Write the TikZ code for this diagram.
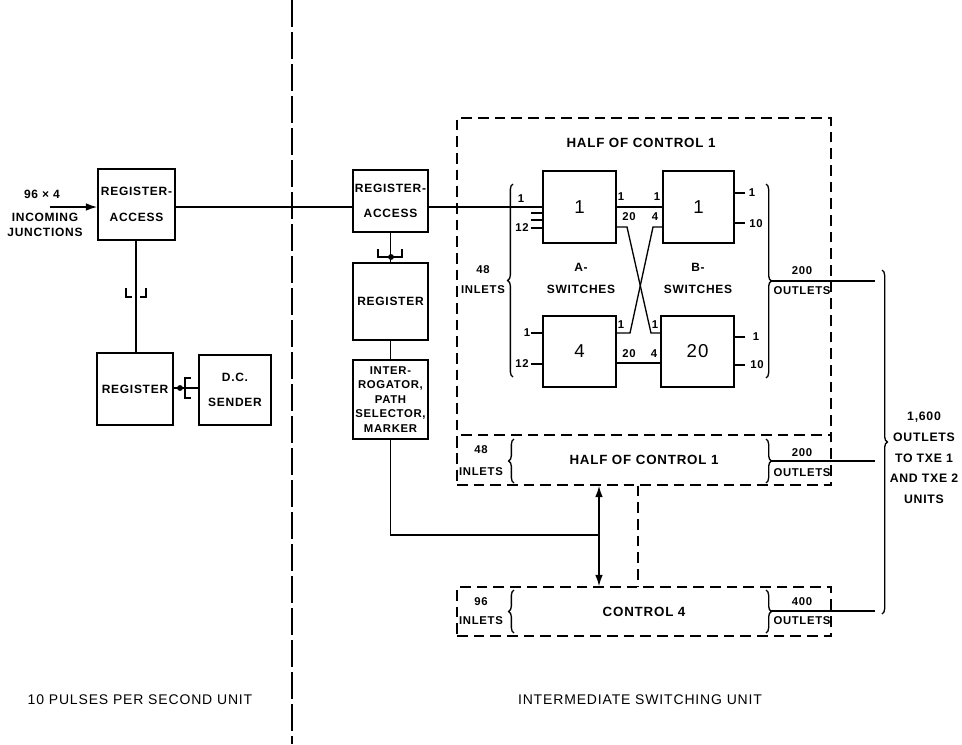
\documentclass[tikz,border=0pt]{standalone}
\usepackage{fontspec}
\setmainfont{Liberation Sans}[LetterSpace=6]
\usetikzlibrary{arrows.meta,positioning,calc,decorations.pathreplacing}

\begin{document}
\begin{tikzpicture}[
    x=0.75pt, y=-0.75pt,
    line width=1pt,
    box/.style={draw, line width=1.1pt, inner sep=1pt, align=center, font=\bfseries\fontsize{9}{10}\selectfont},
    dbox/.style={draw, line width=1.1pt, dash pattern=on 8pt off 4.5pt, inner sep=0pt, align=center, font=\bfseries\fontsize{10}{11}\selectfont},
    num/.style={font=\fontsize{14}{15}\selectfont},
    lbl/.style={inner sep=0pt, align=center, font=\bfseries\fontsize{8.5}{9.5}\selectfont},
    big/.style={inner sep=0pt, align=center, font=\bfseries\fontsize{10}{11}\selectfont},
    arrow/.style={-{Latex[length=3mm,width=2mm]}, line width=1.1pt},
    brc/.style={decorate, decoration={brace, amplitude=4pt}, line width=1pt},
]
    \useasboundingbox (0,0) rectangle (962,744);

    % dividing line between the two units
    \coordinate (divTop) at (292,0);
    \coordinate (divBot) at (292,744);
    \draw[dash pattern=on 20pt off 4pt] (divTop) -- (divBot);

    % 10 pps unit
    \node[box, minimum width=57.75pt, minimum height=53.25pt] (raL) at (136.5,204.5) {REGISTER-\\[9pt]ACCESS};
    \node[box, minimum width=57pt, minimum height=54pt] (regL) at (135,389) {REGISTER};
    \node[box, minimum width=54pt, minimum height=52.5pt] (dcs) at (235,390) {D.C.\\[9pt]SENDER};
    \node[lbl, font=\bfseries\fontsize{9}{10}\selectfont] (mult) at (42,194) {96 × 4};
    \node[lbl, font=\bfseries\fontsize{9}{11}\selectfont] (junc) at (45,225) {INCOMING\\JUNCTIONS};
    \coordinate (inStart) at (50,207);

    % intermediate switching unit
    \node[box, minimum width=56.25pt, minimum height=46.5pt] (raM) at (390.5,201) {REGISTER-\\[9pt]ACCESS};
    \node[box, minimum width=56.25pt, minimum height=57.75pt] (regM) at (390.5,301.5) {REGISTER};
    \node[box, minimum width=56.25pt, minimum height=59.25pt, font=\bfseries\fontsize{8.5}{10.9}\selectfont] (intM) at (390.5,399.5) {INTER-\\ROGATOR,\\PATH\\SELECTOR,\\MARKER};

    \node[dbox, minimum width=280.5pt, minimum height=275.25pt] (ctl1) at (644,301.5) {};
    \node[big] (ctl1ttl) at (641,143) {HALF OF CONTROL 1};
    \node[dbox, minimum width=280.5pt, minimum height=37.5pt] (half1) at (644,460) {HALF OF CONTROL 1};
    \node[dbox, minimum width=280.5pt, minimum height=36.75pt] (ctl4) at (644,611.5) {CONTROL 4};

    % switches
    \node[box, num, minimum width=54.75pt, minimum height=54pt] (a1) at (579.5,207) {1};
    \node[box, num, minimum width=53.25pt, minimum height=54pt] (b1) at (698.5,207) {1};
    \node[box, num, minimum width=54.75pt, minimum height=53.25pt] (a4) at (579.5,351.5) {4};
    \node[box, num, minimum width=54.75pt, minimum height=53.25pt] (b20) at (697.5,351.5) {20};
    \node[lbl, font=\bfseries\fontsize{9}{10}\selectfont] (aSw) at (581,278.5) {A-\\[6pt]SWITCHES};
    \node[lbl, font=\bfseries\fontsize{9}{10}\selectfont] (bSw) at (698,278.5) {B-\\[6pt]SWITCHES};

    % main speech path
    \draw[arrow] (inStart) -- (raL.west |- a1.west);
    \draw (raL.east |- a1.west) -- (raM.west |- a1.west);
    \draw (raM.east |- a1.west) -- (a1.west);

    % register connections
    \draw (raL.south -| 136,0) -- (regL.north -| 136,0);
    \draw (126,288) |- (132,297);
    \draw (140,297) -| (146,288);
    \draw (dcs.west |- 0,388) -- (regL.east |- 0,388);
    \draw (191,378) -- (185,378) -- (185,398) -- (191,398);
    \fill (180,388) circle (2.2pt);
    \draw (raM.south) -- (regM.north);
    \draw (378,249) |- (402,257) -- (402,249);
    \fill (391,257) circle (2.2pt);
    \draw (regM.south) -- (intM.north);

    % A-switch inlets
    \node[lbl] (a1n1) at (521,199) {1};
    \node[lbl] (a1n12) at (522,228) {12};
    \foreach \yy in {213,220,228}
        \draw (a1.west |- 0,\yy) -- ++(-11,0);
    \node[lbl] (a4n1) at (527,333) {1};
    \node[lbl] (a4n12) at (522,364) {12};
    \draw (a4.west |- 0,333) -- ++(-11,0);
    \draw (a4.west |- 0,364) -- ++(-11,0);

    % links between A and B switches
    \draw (a1.east) -- (b1.west);
    \node[lbl] (l1a) at (621,197) {1};
    \node[lbl] (l1b) at (657,197) {1};
    \node[lbl] (l1c) at (629,217) {20};
    \node[lbl] (l1d) at (655,217) {4};
    \draw (a1.east |- 0,227) -- (627,227) -- (651,333) -- (b20.west |- 0,333);
    \draw (b1.west |- 0,227) -- (653,227) -- (630,333) -- (a4.east |- 0,333);
    \node[lbl] (l2a) at (621,325) {1};
    \node[lbl] (l2b) at (655,325) {1};
    \draw (a4.east |- 0,363) -- (b20.west |- 0,363);
    \node[lbl] (l2c) at (629,354) {20};
    \node[lbl] (l2d) at (654,354) {4};

    % B-switch outlets
    \draw (b1.east |- 0,193) -- ++(10,0);
    \draw (b1.east |- 0,223) -- ++(10,0);
    \node[lbl] (b1n1) at (752,193) {1};
    \node[lbl] (b1n10) at (756,224) {10};
    \draw (b20.east |- 0,337) -- ++(10,0);
    \draw (b20.east |- 0,365) -- ++(10,0);
    \node[lbl] (b20n1) at (756,337) {1};
    \node[lbl] (b20n10) at (757,365) {10};

    % braces, inlets and outlets
    \draw[brc] (513,377) -- (513,184);
    \draw[brc] (766,184) -- (766,378);
    \node[lbl] (in1) at (483,279.5) {48\\[6pt]INLETS};
    \node[lbl] (out1) at (802,280.5) {200\\[6pt]OUTLETS};
    \draw[brc] (514,483) -- (514,439);
    \draw[brc] (766,439) -- (766,483);
    \node[lbl] (in2) at (481,461) {48\\[7pt]INLETS};
    \node[lbl] (out2) at (802,462.5) {200\\[6pt]OUTLETS};
    \draw[brc] (514,633) -- (514,590);
    \draw[brc] (766,590) -- (766,633);
    \node[lbl] (in3) at (481,611) {96\\[5pt]INLETS};
    \node[lbl] (out3) at (802,611) {400\\[5pt]OUTLETS};

    \coordinate (tip1) at (771,281);
    \coordinate (tip2) at (771,461);
    \coordinate (tip3) at (771,611);
    \coordinate (end1) at (875,281);
    \coordinate (end2) at (875,461);
    \coordinate (end3) at (875,611);
    \draw (tip1) -- (end1);
    \draw (tip2) -- (end2);
    \draw (tip3) -- (end3);
    \draw[brc] (882,270) -- (882,614);
    \node[big, font=\bfseries\fontsize{9.2}{15.5}\selectfont] (txe) at (924,458) {1,600\\OUTLETS\\TO TXE 1\\AND TXE 2\\UNITS};

    % control leads
    \coordinate (tap) at (599,535);
    \coordinate (dtap) at (638,535);
    \draw (intM.south) |- (tap);
    \draw[{Latex[length=3mm,width=2mm]}-{Latex[length=3mm,width=2mm]}, line width=1.1pt] (tap |- half1.south) -- (tap |- ctl4.north);
    \draw[dash pattern=on 8pt off 4.5pt, line width=1.1pt] (dtap |- half1.south) -- (dtap |- ctl4.north);

    % unit names
    \node[big, font=\fontsize{10.5}{12}\selectfont] (ppsName) at (140,700) {10 PULSES PER SECOND UNIT};
    \node[big, font=\fontsize{10.5}{12}\selectfont] (isuName) at (640,700) {INTERMEDIATE SWITCHING UNIT};
\end{tikzpicture}
\end{document}
